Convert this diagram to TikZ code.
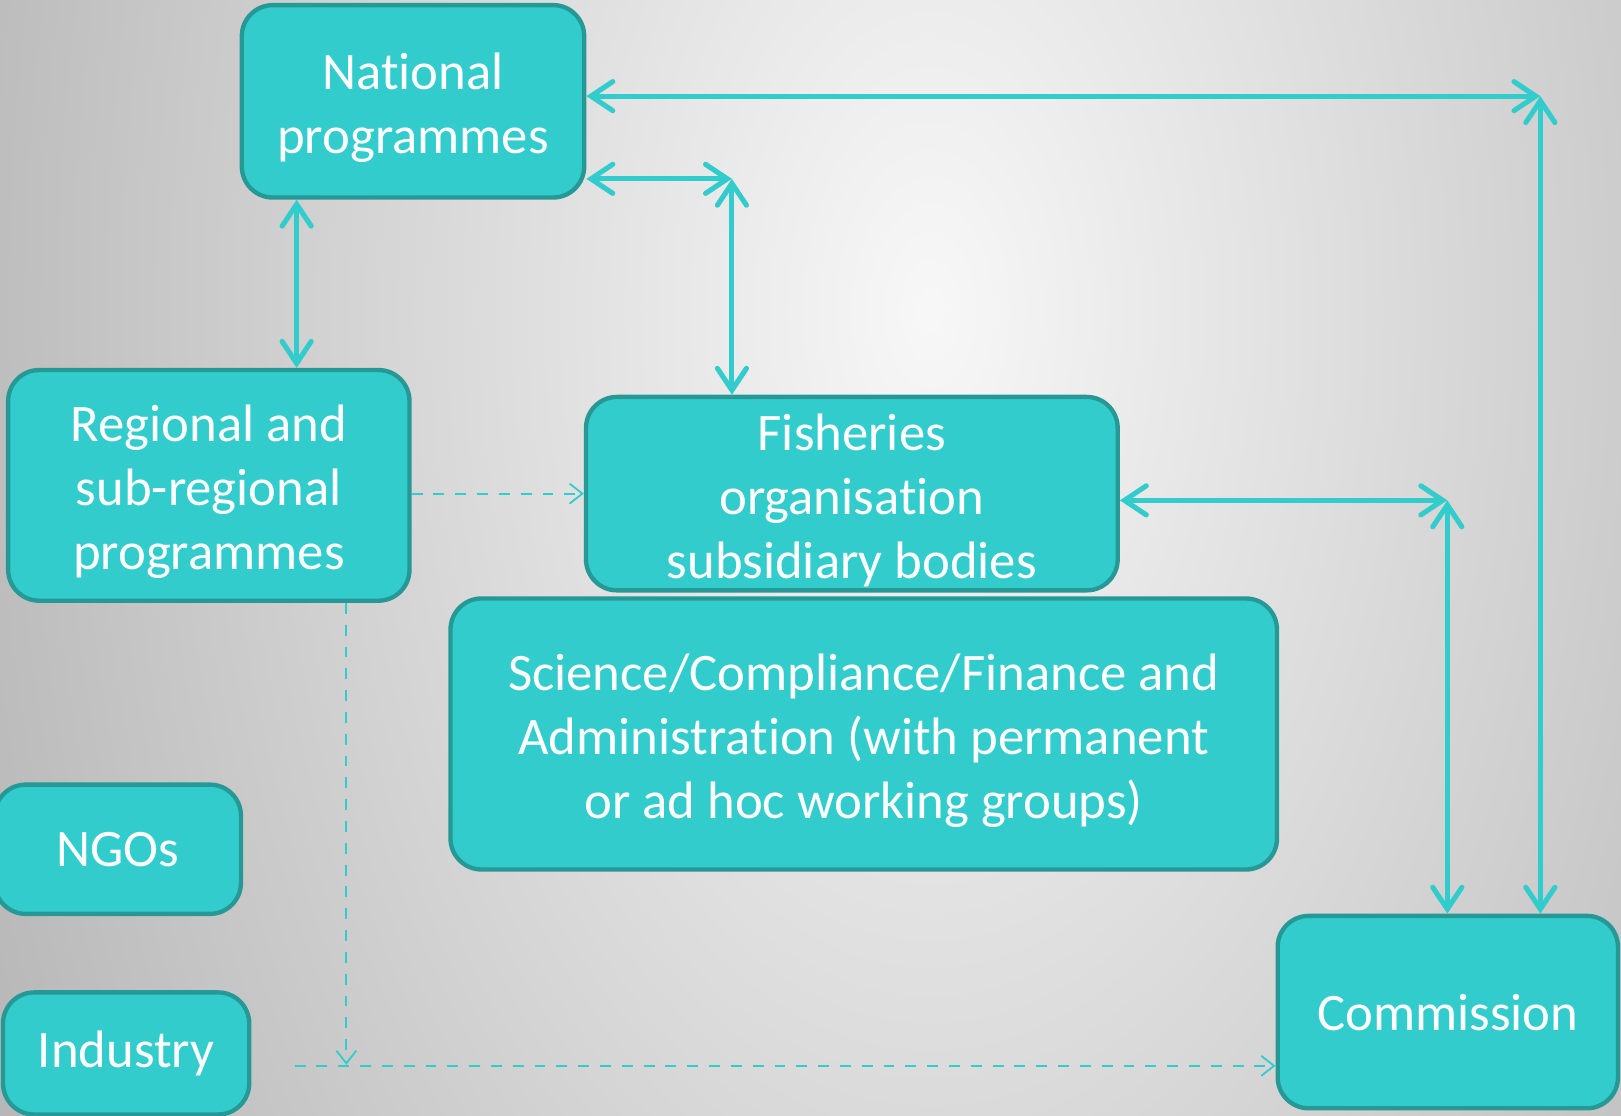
\documentclass[tikz,border=0pt]{standalone}
\usepackage{fontspec}
\setmainfont{Carlito}[RawFeature={-liga;-clig;-calt;-dlig}]
\usepackage{tikz}
\usetikzlibrary{arrows.meta}
\usetikzlibrary{positioning}
\usetikzlibrary{calc}
\definecolor{boxfill}{RGB}{51,204,204}
\definecolor{boxline}{RGB}{38,153,150}
\pgfdeclareradialshading{backdrop}{\pgfpoint{0bp}{0bp}}{color(0bp)=(black!3); color(50bp)=(black!58)}
\tikzstyle{box}=[draw=boxline,fill=boxfill,line width=1.2pt,rounded corners=0.3cm,inner ysep=0pt,text=white,align=center,font=\fontsize{14.5}{17.6}\selectfont]
\newcommand{\topline}{\rule{0pt}{13.6pt}}
\tikzstyle{link}=[draw=boxfill,line width=1.4pt,<->,>={Straight Barb[length=6pt,width=8pt,line cap=round]}]

\begin{document}
\begin{tikzpicture}[x=0.01cm,y=-0.01cm]
\tikzstyle{flow}=[draw=boxfill,line width=0.5pt,dashed,->,>={Straight Barb[length=3.5pt,width=5.5pt]}]
\begin{scope}
\clip (0,0) rectangle (1568,1079);
\shade[shading=backdrop] (-200,-1570) rectangle (2000,2170);
\end{scope}
\useasboundingbox (0,0) rectangle (1568,1079);

\node [box,minimum width=3.31cm,minimum height=1.86cm] (nat) at (399.5,98) {\topline National\\programmes};
\node [box,minimum width=3.88cm,minimum height=2.23cm] (reg) at (202,469.5) {\topline Regional and\\sub-regional\\programmes};
\node [box,minimum width=5.14cm,minimum height=1.87cm] (fis) at (824,477.5) {\topline Fisheries\\organisation\\subsidiary bodies};
\node [box,minimum width=7.99cm,minimum height=2.62cm] (sci) at (835.5,710) {\topline Science/Compliance/Finance and\\Administration (with permanent\\or ad hoc working groups)};
\node [box,minimum width=2.38cm,minimum height=1.25cm] (ngo) at (114,821.5) {NGOs};
\node [box,minimum width=2.38cm,minimum height=1.18cm] (ind) at (122,1019) {Industry};
\node [box,minimum width=3.29cm,minimum height=1.86cm] (com) at (1400.5,979) {Commission};

\coordinate (cNat) at (1490,93);
\coordinate (cFis) at (708,173);
\coordinate (cCom) at (1400,484);
\coordinate (cDown) at (335,1030);
\coordinate (cInd) at (285,1031);

\draw[link] (nat.east |- cNat) -- (cNat);
\draw[link] (cNat) -- (cNat |- com.north);
\draw[link] (nat.east |- cFis) -- (cFis);
\draw[link] (cFis) -- (cFis |- fis.north);
\draw[link] ([xshift=-1.125cm]nat.south) -- ([xshift=-1.125cm]nat.south |- reg.north);
\draw[link] (fis.east |- cCom) -- (cCom);
\draw[link] (cCom) -- (cCom |- com.north);

%\draw[flow] (reg.east) -- (fis.west);
\draw[flow] (reg.east |- fis.west) -- (fis.west);
\draw[flow] (reg.south -| cDown) -- (cDown);
\draw[flow] (cInd) -- (cInd -| com.west);
\end{tikzpicture}
\end{document}
